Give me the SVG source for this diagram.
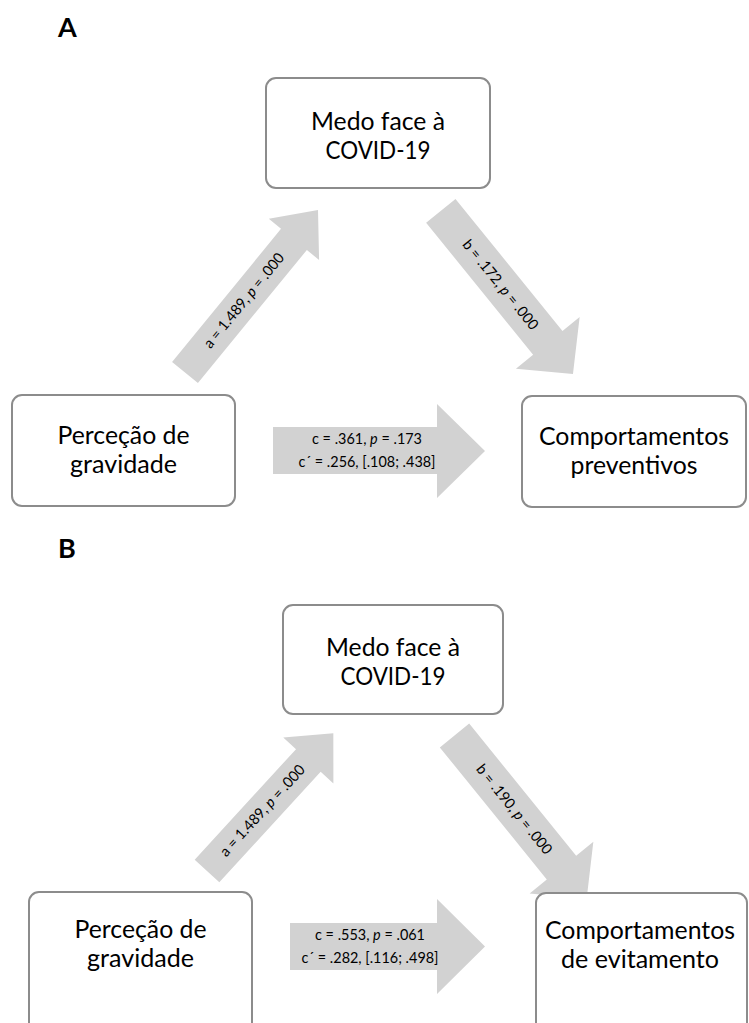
<svg xmlns="http://www.w3.org/2000/svg" width="749" height="1023" viewBox="0 0 749 1023">
<style>
.bg{fill:#ffffff}
.box{fill:#ffffff;stroke:#8c8c8c;stroke-width:2}
.arr{fill:#d2d2d2;stroke:none}
.big{font-family:Lato,"Open Sans",sans-serif;font-size:25px;fill:#000;text-anchor:middle}
.sm{font-family:Lato,"Open Sans",sans-serif;font-size:14.8px;fill:#000;text-anchor:middle}
.lab{font-family:Lato,"Open Sans",sans-serif;font-size:27px;font-weight:bold;fill:#000}
.it{font-style:italic}
</style>
<rect class="bg" x="0" y="0" width="749" height="1023"/>

<text class="lab" x="58" y="37">A</text>
<text class="lab" x="58" y="558">B</text>

<g id="connectors">
  <!-- Panel A -->
  <g id="arrowA-a" transform="translate(185,372.5) rotate(-50.7)">
    <polygon class="arr" points="0,-16.7 172,-16.7 172,-32.5 210,0 172,32.5 172,16.7 0,16.7"/>
    <text class="sm" x="93" y="5" textLength="118" lengthAdjust="spacingAndGlyphs">a = 1.489, <tspan class="it">p</tspan> = .000</text>
  </g>
  <g id="arrowA-b" transform="translate(440.8,210.8) rotate(51)">
    <polygon class="arr" points="0,-18.9 170,-18.9 170,-41 210,0 170,41 170,18.9 0,18.9"/>
    <text class="sm" x="95" y="5" textLength="111" lengthAdjust="spacingAndGlyphs">b = .172, <tspan class="it">p</tspan> = .000</text>
  </g>
  <g id="arrowA-c">
    <polygon class="arr" points="273,427 437,427 437,404 485,451 437,498 437,474 273,474"/>
    <text class="sm" x="367" y="444" textLength="110" lengthAdjust="spacingAndGlyphs">c = .361, <tspan class="it">p</tspan> = .173</text>
    <text class="sm" x="367" y="467" textLength="137" lengthAdjust="spacingAndGlyphs">c´ = .256, [.108; .438]</text>
  </g>
  <!-- Panel B -->
  <g id="arrowB-a" transform="translate(207,871) rotate(-47.5)">
    <polygon class="arr" points="0,-16.7 150,-16.7 150,-34 187,0 150,34 150,16.7 0,16.7"/>
    <text class="sm" x="82" y="5" textLength="118" lengthAdjust="spacingAndGlyphs">a = 1.489, <tspan class="it">p</tspan> = .000</text>
  </g>
  <g id="arrowB-b" transform="translate(454.5,735.5) rotate(51)">
    <polygon class="arr" points="0,-18.9 170,-18.9 170,-41 210,0 170,41 170,18.9 0,18.9"/>
    <text class="sm" x="95" y="5" textLength="111" lengthAdjust="spacingAndGlyphs">b = .190, <tspan class="it">p</tspan> = .000</text>
  </g>
  <g id="arrowB-c">
    <polygon class="arr" points="290,923 437,923 437,899 485,946.5 437,994 437,970 290,970"/>
    <text class="sm" x="370" y="940" textLength="110" lengthAdjust="spacingAndGlyphs">c = .553, <tspan class="it">p</tspan> = .061</text>
    <text class="sm" x="370" y="963" textLength="137" lengthAdjust="spacingAndGlyphs">c´ = .282, [.116; .498]</text>
  </g>
</g>

<!-- Panel A nodes -->
<g id="A-medo">
  <rect class="box" x="266" y="78" width="224" height="110" rx="10"/>
  <text class="big" x="378" y="130" textLength="134" lengthAdjust="spacingAndGlyphs">Medo face à</text>
  <text class="big" x="378" y="159" textLength="105" lengthAdjust="spacingAndGlyphs">COVID-19</text>
</g>
<g id="A-percecao">
  <rect class="box" x="12" y="395" width="223" height="111" rx="10"/>
  <text class="big" x="123.5" y="444" textLength="132" lengthAdjust="spacingAndGlyphs">Perceção de</text>
  <text class="big" x="123.5" y="473" textLength="107" lengthAdjust="spacingAndGlyphs">gravidade</text>
</g>
<g id="A-comport">
  <rect class="box" x="522" y="396" width="224" height="111" rx="10"/>
  <text class="big" x="634" y="445" textLength="190" lengthAdjust="spacingAndGlyphs">Comportamentos</text>
  <text class="big" x="634" y="474" textLength="127" lengthAdjust="spacingAndGlyphs">preventivos</text>
</g>

<!-- Panel B nodes -->
<g id="B-medo">
  <rect class="box" x="283" y="605" width="220" height="109" rx="10"/>
  <text class="big" x="393" y="656" textLength="134" lengthAdjust="spacingAndGlyphs">Medo face à</text>
  <text class="big" x="393" y="685" textLength="105" lengthAdjust="spacingAndGlyphs">COVID-19</text>
</g>
<g id="B-percecao">
  <rect class="box" x="29" y="892" width="223" height="140" rx="10"/>
  <text class="big" x="140.5" y="938" textLength="132" lengthAdjust="spacingAndGlyphs">Perceção de</text>
  <text class="big" x="140.5" y="967" textLength="107" lengthAdjust="spacingAndGlyphs">gravidade</text>
</g>
<g id="B-comport">
  <rect class="box" x="536" y="893" width="211" height="140" rx="10"/>
  <text class="big" x="640" y="939" textLength="190" lengthAdjust="spacingAndGlyphs">Comportamentos</text>
  <text class="big" x="640" y="968" textLength="158" lengthAdjust="spacingAndGlyphs">de evitamento</text>
</g>
</svg>
